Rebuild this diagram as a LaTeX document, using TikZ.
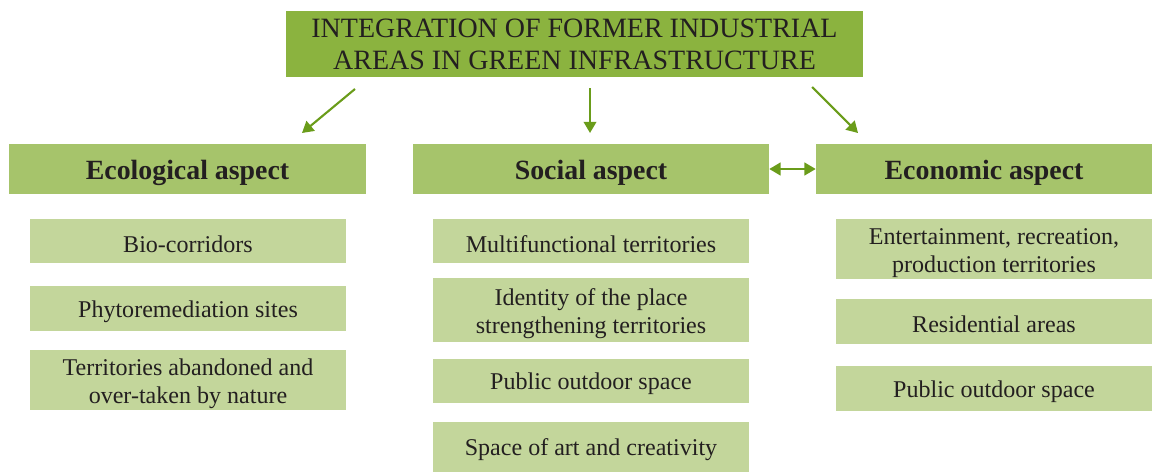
\documentclass[tikz,border=0pt]{standalone}
\usepackage{fontspec}
\setmainfont{Liberation Serif}
\usetikzlibrary{arrows.meta, positioning}
\definecolor{topgreen}{RGB}{139,179,63}
\definecolor{headgreen}{RGB}{166,196,107}
\definecolor{itemgreen}{RGB}{195,214,155}
\definecolor{arrowgreen}{RGB}{106,156,26}
\definecolor{txtgray}{RGB}{35,31,32}

\begin{document}
\begin{tikzpicture}[x=0.025cm, y=-0.025cm,
 topbox/.style={fill=topgreen, minimum width=577*0.025cm, minimum height=66*0.025cm, inner sep=0pt, align=center, text=txtgray, font=\fontsize{19.9}{22.7}\selectfont},
 aspect/.style={fill=headgreen, minimum height=50*0.025cm, inner sep=0pt, text=txtgray, font=\fontsize{19.8}{22}\selectfont\bfseries, execute at begin node={\rule{0pt}{1.0em}}},
 item/.style={fill=itemgreen, minimum width=316*0.025cm, inner sep=0pt, align=center, text=txtgray, font=\fontsize{17.1}{20.5}\selectfont, execute at begin node={\rule{0pt}{#1}}},
 item/.default=0.95em,
 arr/.style={draw=arrowgreen, line width=1.5pt, -{Triangle[length=8pt, width=9pt]}}]
 \useasboundingbox (0,0) rectangle (1161,473);
 \node[topbox] (top) at (574.5,44){INTEGRATION OF FORMER INDUSTRIAL\\AREAS IN GREEN INFRASTRUCTURE};
 \node[aspect, minimum width=357*0.025cm] (eco) at (187.5,169){Ecological aspect};
 \node[aspect, minimum width=356*0.025cm] (soc) at (591,169){Social aspect};
 \node[aspect, minimum width=336*0.025cm] (econ) at (984,169){Economic aspect};
 % arrows from the title
 \coordinate (l1) at (355,89);
 \coordinate (l2) at (302,133);
 \coordinate (m1) at (590,88);
 \coordinate (m2) at (590,133);
 \coordinate (r1) at (812,87);
 \coordinate (r2) at (858,133);
 \draw[arr] (l1) -- (l2);
 \draw[arr] (m1) -- (m2);
 \draw[arr] (r1) -- (r2);
 \draw[arr, {Triangle[length=8pt, width=9pt]}-{Triangle[length=8pt, width=9pt]}] (soc.east) -- (econ.west);
 % ecological
 \node[item, minimum height=44*0.025cm] (bio) at (188,241){Bio-corridors};
 \node[item, minimum height=45*0.025cm] (phyto) at (188,308.5){Phytoremediation sites};
 \node[item=2.2em, minimum height=60*0.025cm] (terr) at (188,380){Territories abandoned and\\over-taken by nature};
 % social
 \node[item, minimum height=44*0.025cm] (multi) at (591,241){Multifunctional territories};
 \node[item=2.2em, minimum height=64*0.025cm] (ident) at (591,310){Identity of the place\\strengthening territories};
 \node[item, minimum height=44*0.025cm] (pubs) at (591,381){Public outdoor space};
 \node[item, minimum height=50*0.025cm] (art) at (591,447){Space of art and creativity};
 % economic
 \node[item=2.2em, minimum height=60*0.025cm] (ent) at (994,249){Entertainment, recreation,\\production territories};
 \node[item, minimum height=45*0.025cm] (resi) at (994,321.5){Residential areas};
 \node[item, minimum height=45*0.025cm] (pube) at (994,388.5){Public outdoor space};
\end{tikzpicture}
\end{document}
